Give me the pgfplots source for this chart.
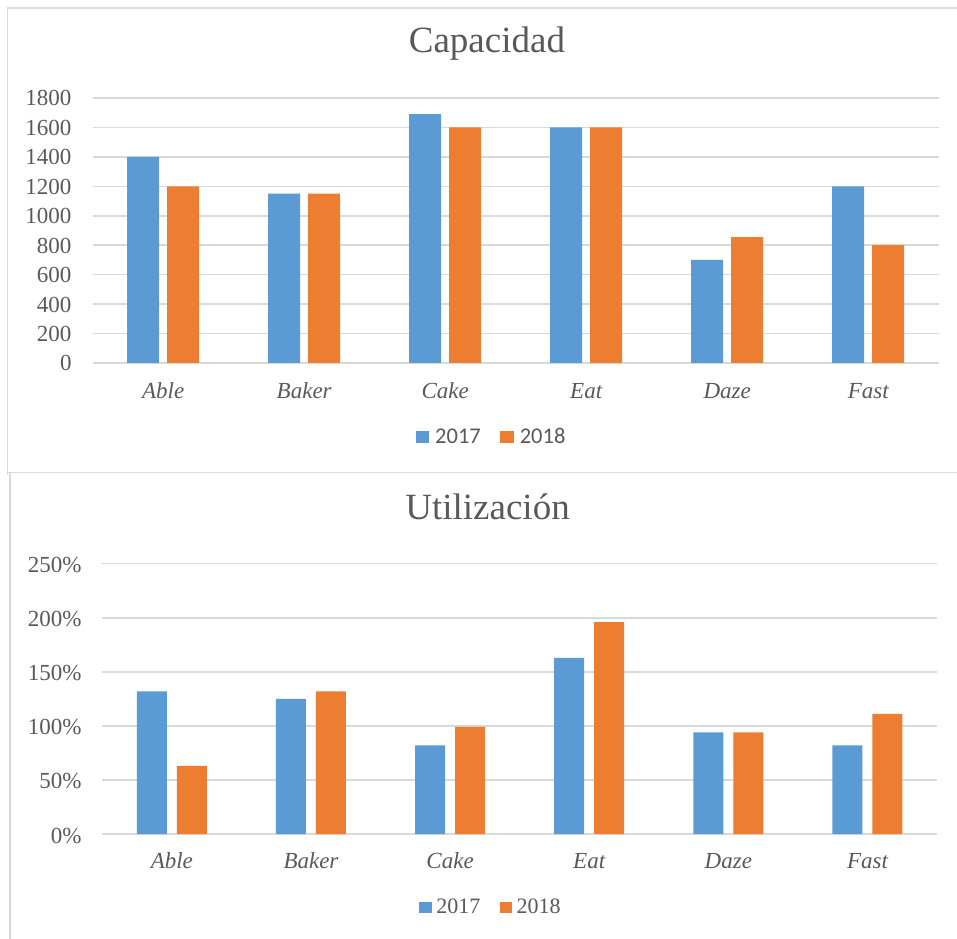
\documentclass[border=0pt]{standalone}
\usepackage{fontspec}
\setmainfont{Liberation Serif}
\newfontfamily\calibri{Carlito}
\usepackage{pgfplots}
\pgfplotsset{compat=1.18}

\definecolor{azul}{HTML}{5B9BD5}
\definecolor{naranja}{HTML}{ED7D31}
\definecolor{texto}{HTML}{595959}
\definecolor{rejilla}{HTML}{D9D9D9}

\pgfplotsset{
  excel/.style={
    scale only axis, ybar, xmin=-0.5, xmax=5.5, ymin=0,
    axis line style={draw=none}, major tick length=0pt,
    ymajorgrids, grid style={rejilla, line width=1.5pt},
    xtick={0,...,5}, xticklabels={Able,Baker,Cake,Eat,Daze,Fast},
    xticklabel style={font=\fontsize{23}{23}\selectfont\itshape, text=texto, anchor=base, inner sep=0pt},
    yticklabel style={font=\fontsize{23}{23}\selectfont, text=texto, anchor=base east, inner sep=0pt},
    /pgf/number format/1000 sep={},
    /pgf/number format/assume math mode=true,
    title style={anchor=base, font=\fontsize{37}{37}\selectfont, text=texto, inner sep=0pt},
    legend columns=2,
  }
}

\begin{document}
\begin{tikzpicture}[x=1pt,y=1pt]
\path[use as bounding box] (0,0) rectangle (957,938);

% marcos de los dos graficos
\draw[rejilla, line width=1.5pt] (1000,930) -- (7.5,930) -- (7.5,463);
\draw[rejilla, line width=1.5pt] (1000,465.3) -- (7.5,465.3);
\draw[rejilla, line width=1.5pt] (10,465.3) -- (10,-20);

% Capacidad
\begin{axis}[excel,
  at={(92.7pt,575pt)}, anchor=south west,
  width=846pt, height=265pt,
  ymax=1800, ytick={0,200,...,1800},
  ybar=8pt, bar width=32pt,
  xticklabel style={yshift=-35pt},
  yticklabel style={xshift=-21pt, yshift=-8pt},
  title=Capacidad,
  title style={at={(axis description cs:0.466,1.150)}},
  legend style={at={(axis description cs:0.3818,-0.3094)}, anchor=south west,
    draw=none, fill=none, inner sep=0pt, outer sep=0pt,
    font=\calibri\fontsize{22.5}{22.5}\selectfont, text=texto,
    nodes={inner sep=0pt},
    /tikz/every odd column/.append style={column sep=6pt},
    /tikz/every even column/.append style={column sep=19.5pt}},
  legend image code/.code={\fill[#1] (0pt,-6.4pt) rectangle (13.5pt,5.2pt);},
]
\addplot[fill=azul, draw=none] coordinates {(0,1400) (1,1150) (2,1690) (3,1600) (4,700) (5,1200)};
\addplot[fill=naranja, draw=none] coordinates {(0,1200) (1,1150) (2,1600) (3,1600) (4,855) (5,800)};
\legend{2017,2018}
\end{axis}

% Utilizacion
\begin{axis}[excel,
  at={(102.3pt,104pt)}, anchor=south west,
  width=834.7pt, height=270.3pt,
  ymax=250, ytick={0,50,...,250},
  yticklabel={\pgfmathprintnumber{\tick}\%},
  ybar=10pt, bar width=30pt,
  xticklabel style={yshift=-34pt},
  yticklabel style={xshift=-20.6pt, yshift=-9pt},
  title=Utilización,
  title style={at={(axis description cs:0.4615,1.142)}},
  legend style={at={(axis description cs:0.3798,-0.2997)}, anchor=south west,
    draw=none, fill=none, inner sep=0pt, outer sep=0pt,
    font=\fontsize{22}{22}\selectfont, text=texto,
    nodes={inner sep=0pt},
    /tikz/every odd column/.append style={column sep=4.6pt},
    /tikz/every even column/.append style={column sep=19.3pt}},
  legend image code/.code={\fill[#1] (0pt,-6.4pt) rectangle (12.4pt,4.9pt);},
]
\addplot[fill=azul, draw=none] coordinates {(0,132) (1,125) (2,82) (3,163) (4,94) (5,82)};
\addplot[fill=naranja, draw=none] coordinates {(0,63) (1,132) (2,99) (3,196) (4,94) (5,111)};
\legend{2017,2018}
\end{axis}
\end{tikzpicture}
\end{document}
